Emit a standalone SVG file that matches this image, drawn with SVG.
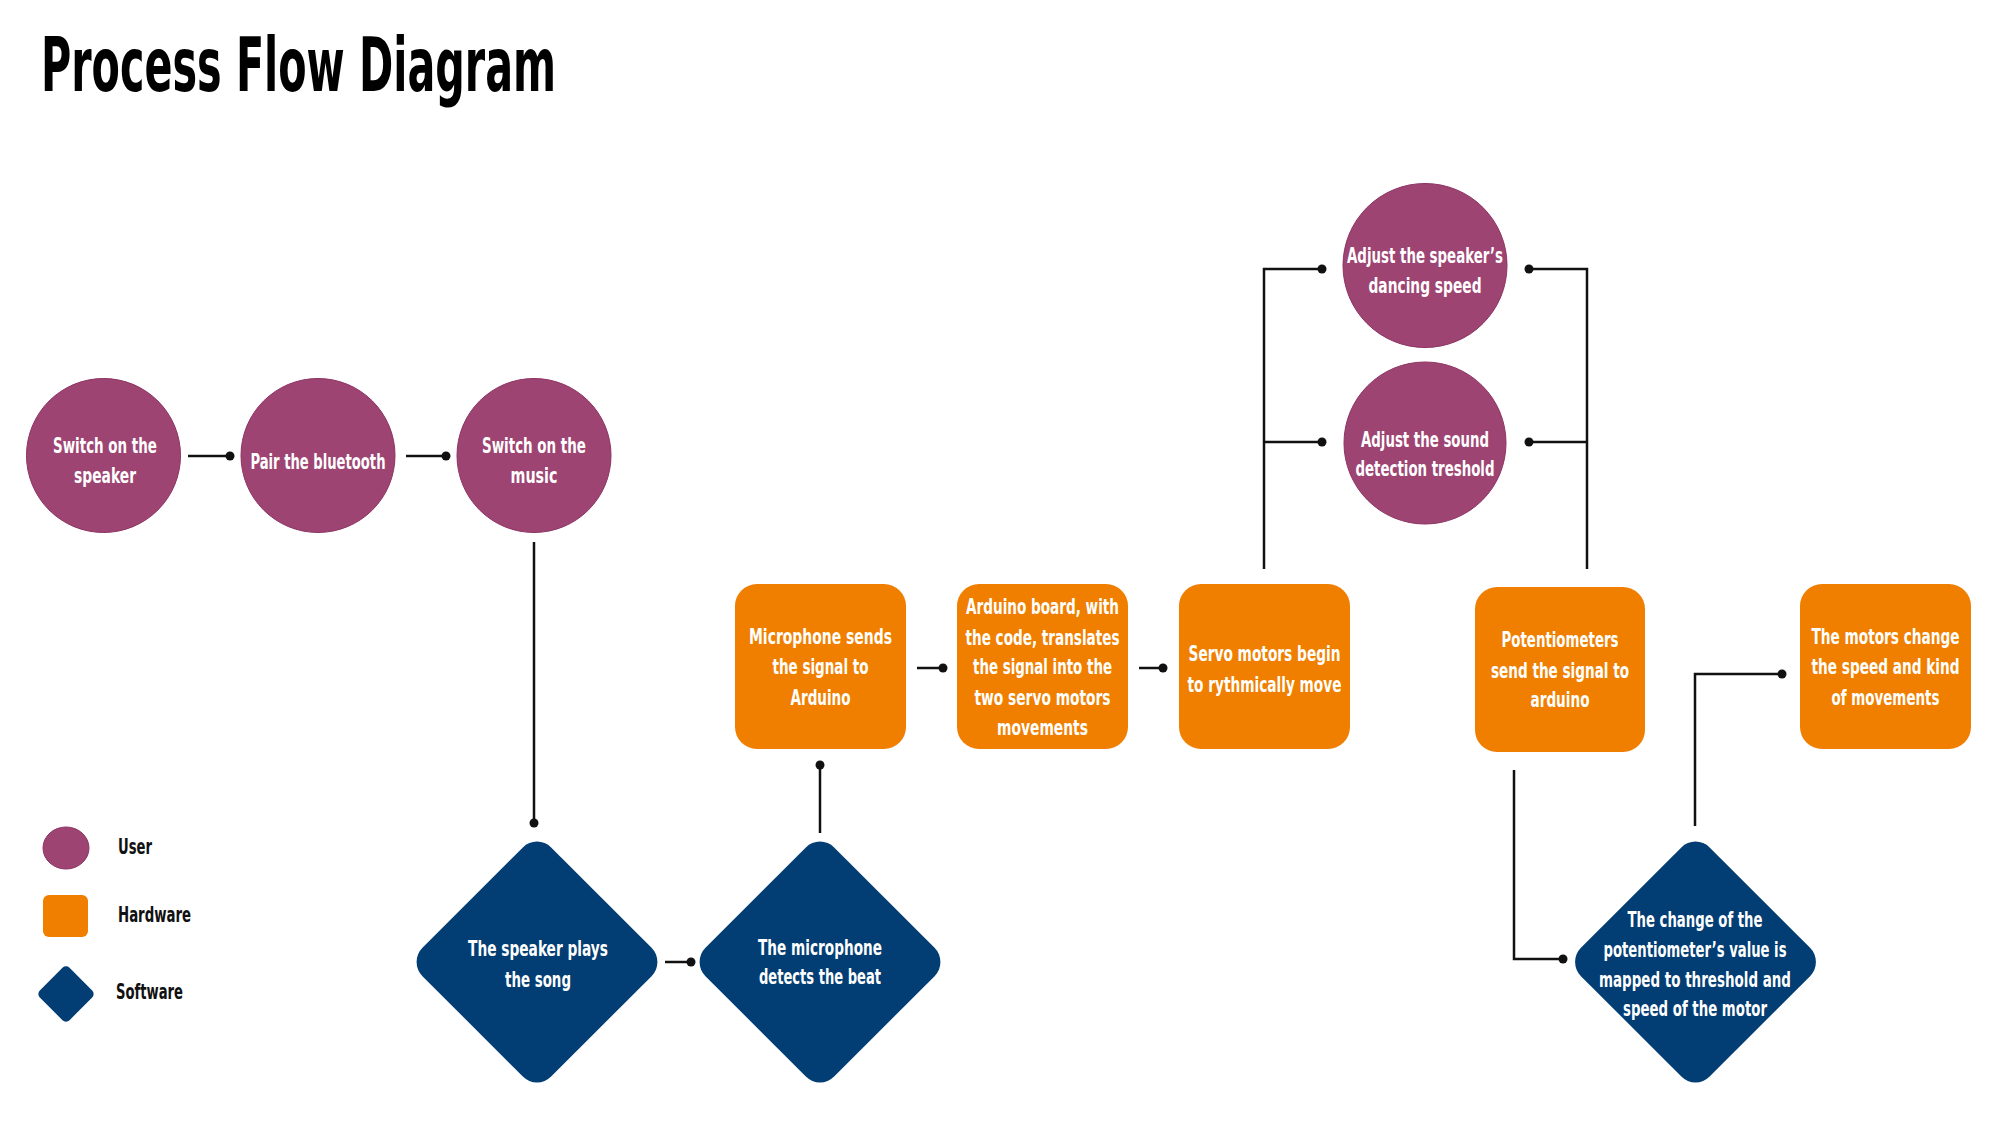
<svg xmlns="http://www.w3.org/2000/svg" width="2000" height="1125" viewBox="0 0 2000 1125">
<style>
.t{font-family:"DejaVu Sans Condensed","DejaVu Sans","Liberation Sans",sans-serif;font-weight:bold;font-size:22px;fill:#fff;text-anchor:middle}
.lg{font-family:"DejaVu Sans Condensed","DejaVu Sans","Liberation Sans",sans-serif;font-weight:bold;font-size:22px;fill:#111}
.title{font-family:"DejaVu Sans Condensed","DejaVu Sans","Liberation Sans",sans-serif;font-weight:bold;font-size:74px;fill:#000}
.user{fill:#9D4473;stroke:#8C3362;stroke-width:1}
.hw{fill:#F07F00}
.sw{fill:#023D73}
.ln{fill:none;stroke:#111;stroke-width:2.5}
.dot{fill:#111}
</style>
<defs>
<rect id="dia" x="-91" y="-91" width="182" height="182" rx="20" transform="rotate(45)"/>
</defs>
<rect width="2000" height="1125" fill="#fff"/>
<text class="title" x="41" y="91" textLength="515" lengthAdjust="spacingAndGlyphs">Process Flow Diagram</text>

<g id="connectors">
<path class="ln" d="M188 456H230M406 456H446M534 542V823M665 962H691M820 833V765M917 668H943M1139 668H1163"/>
<path class="ln" d="M1264 569V269H1322M1264 442H1322M1587 569V269H1529M1587 442H1529"/>
<path class="ln" d="M1514 770V959H1563M1695 826V674H1782"/>
<circle class="dot" cx="230" cy="456" r="4.5"/>
<circle class="dot" cx="446" cy="456" r="4.5"/>
<circle class="dot" cx="534" cy="823" r="4.5"/>
<circle class="dot" cx="691" cy="962" r="4.5"/>
<circle class="dot" cx="820" cy="765" r="4.5"/>
<circle class="dot" cx="943" cy="668" r="4.5"/>
<circle class="dot" cx="1163" cy="668" r="4.5"/>
<circle class="dot" cx="1322" cy="269" r="4.5"/>
<circle class="dot" cx="1322" cy="442" r="4.5"/>
<circle class="dot" cx="1529" cy="269" r="4.5"/>
<circle class="dot" cx="1529" cy="442" r="4.5"/>
<circle class="dot" cx="1563" cy="959" r="4.5"/>
<circle class="dot" cx="1782" cy="674" r="4.5"/>
</g>

<g id="switch-speaker">
<circle class="user" cx="103.5" cy="455.5" r="77"/>
<text class="t" x="105" y="453" textLength="104" lengthAdjust="spacingAndGlyphs">Switch on the</text>
<text class="t" x="105" y="483" textLength="62" lengthAdjust="spacingAndGlyphs">speaker</text>
</g>
<g id="pair-bluetooth">
<circle class="user" cx="318" cy="455.5" r="77"/>
<text class="t" x="318" y="469" textLength="135" lengthAdjust="spacingAndGlyphs">Pair the bluetooth</text>
</g>
<g id="switch-music">
<circle class="user" cx="534" cy="455.5" r="77"/>
<text class="t" x="534" y="453" textLength="104" lengthAdjust="spacingAndGlyphs">Switch on the</text>
<text class="t" x="534" y="483" textLength="47" lengthAdjust="spacingAndGlyphs">music</text>
</g>
<g id="adjust-speed">
<circle class="user" cx="1425" cy="265.5" r="82"/>
<text class="t" x="1425" y="263" textLength="156" lengthAdjust="spacingAndGlyphs">Adjust the speaker’s</text>
<text class="t" x="1425" y="293" textLength="113" lengthAdjust="spacingAndGlyphs">dancing speed</text>
</g>
<g id="adjust-threshold">
<circle class="user" cx="1425" cy="443" r="81"/>
<text class="t" x="1425" y="447" textLength="128" lengthAdjust="spacingAndGlyphs">Adjust the sound</text>
<text class="t" x="1425" y="476" textLength="139" lengthAdjust="spacingAndGlyphs">detection treshold</text>
</g>

<g id="speaker-plays">
<use href="#dia" class="sw" transform="translate(537 962)"/>
<text class="t" x="538" y="956" textLength="140" lengthAdjust="spacingAndGlyphs">The speaker plays</text>
<text class="t" x="538" y="987" textLength="66" lengthAdjust="spacingAndGlyphs">the song</text>
</g>
<g id="mic-detects">
<use href="#dia" class="sw" transform="translate(820 962)"/>
<text class="t" x="820" y="955" textLength="124" lengthAdjust="spacingAndGlyphs">The microphone</text>
<text class="t" x="820" y="984" textLength="122" lengthAdjust="spacingAndGlyphs">detects the beat</text>
</g>
<g id="pot-mapped">
<use href="#dia" class="sw" transform="translate(1695.5 962)"/>
<text class="t" x="1695" y="927" textLength="135" lengthAdjust="spacingAndGlyphs">The change of the</text>
<text class="t" x="1695" y="957" textLength="183" lengthAdjust="spacingAndGlyphs">potentiometer’s value is</text>
<text class="t" x="1695" y="987" textLength="192" lengthAdjust="spacingAndGlyphs">mapped to threshold and</text>
<text class="t" x="1695" y="1016" textLength="144" lengthAdjust="spacingAndGlyphs">speed of the motor</text>
</g>

<g id="mic-sends">
<rect class="hw" x="735" y="584" width="171" height="165" rx="22"/>
<text class="t" x="820.5" y="644" textLength="143" lengthAdjust="spacingAndGlyphs">Microphone sends</text>
<text class="t" x="820.5" y="674" textLength="96" lengthAdjust="spacingAndGlyphs">the signal to</text>
<text class="t" x="820.5" y="705" textLength="60" lengthAdjust="spacingAndGlyphs">Arduino</text>
</g>
<g id="arduino-board">
<rect class="hw" x="957" y="584" width="171" height="165" rx="22"/>
<text class="t" x="1042.5" y="614" textLength="153" lengthAdjust="spacingAndGlyphs">Arduino board, with</text>
<text class="t" x="1042.5" y="645" textLength="154" lengthAdjust="spacingAndGlyphs">the code, translates</text>
<text class="t" x="1042.5" y="674" textLength="139" lengthAdjust="spacingAndGlyphs">the signal into the</text>
<text class="t" x="1042.5" y="705" textLength="136" lengthAdjust="spacingAndGlyphs">two servo motors</text>
<text class="t" x="1042.5" y="735" textLength="91" lengthAdjust="spacingAndGlyphs">movements</text>
</g>
<g id="servo-move">
<rect class="hw" x="1179" y="584" width="171" height="165" rx="22"/>
<text class="t" x="1264.5" y="661" textLength="152" lengthAdjust="spacingAndGlyphs">Servo motors begin</text>
<text class="t" x="1264.5" y="692" textLength="154" lengthAdjust="spacingAndGlyphs">to rythmically move</text>
</g>
<g id="pot-send">
<rect class="hw" x="1475" y="587" width="170" height="165" rx="22"/>
<text class="t" x="1560" y="647" textLength="117" lengthAdjust="spacingAndGlyphs">Potentiometers</text>
<text class="t" x="1560" y="678" textLength="138" lengthAdjust="spacingAndGlyphs">send the signal to</text>
<text class="t" x="1560" y="707" textLength="59" lengthAdjust="spacingAndGlyphs">arduino</text>
</g>
<g id="motors-change">
<rect class="hw" x="1800" y="584" width="171" height="165" rx="22"/>
<text class="t" x="1885.5" y="644" textLength="148" lengthAdjust="spacingAndGlyphs">The motors change</text>
<text class="t" x="1885.5" y="674" textLength="148" lengthAdjust="spacingAndGlyphs">the speed and kind</text>
<text class="t" x="1885.5" y="705" textLength="108" lengthAdjust="spacingAndGlyphs">of movements</text>
</g>

<g id="legend">
<ellipse class="user" cx="66" cy="848" rx="23" ry="21"/>
<text class="lg" x="118" y="854" textLength="34" lengthAdjust="spacingAndGlyphs">User</text>
<rect class="hw" x="43" y="895" width="45" height="42" rx="6"/>
<text class="lg" x="118" y="922" textLength="73" lengthAdjust="spacingAndGlyphs">Hardware</text>
<rect class="sw" x="-21" y="-21" width="42" height="42" rx="5" transform="translate(66 994) rotate(45)"/>
<text class="lg" x="116" y="999" textLength="67" lengthAdjust="spacingAndGlyphs">Software</text>
</g>
</svg>
